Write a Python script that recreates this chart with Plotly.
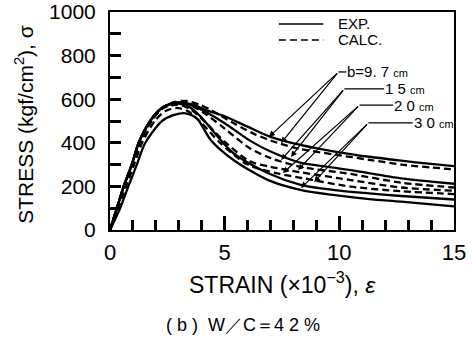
import plotly.graph_objects as go

# ---- data (strain x10^-3, stress kgf/cm2) ----
exp97_x = [0, 0.3, 0.6, 0.95, 1.25, 1.75, 2.2, 2.6, 3.1, 3.6, 4.2, 5.0, 6.0, 7.0, 8.3, 9.8, 11.3, 12.7, 14.0, 15.0]
exp97_y = [0, 100, 200, 300, 400, 500, 555, 578, 585, 575, 550, 522, 474, 427, 390, 360, 336, 318, 303, 293]
calc97_x = [0, 0.3, 0.6, 0.95, 1.3, 1.8, 2.3, 2.8, 3.3, 3.9, 4.5, 5.3, 6.3, 7.3, 8.3, 9.8, 11.3, 12.7, 14.0, 15.0]
calc97_y = [0, 100, 200, 300, 400, 500, 562, 587, 592, 575, 545, 495, 440, 400, 372, 346, 322, 300, 287, 278]

exp15_x = [0, 0.3, 0.6, 0.95, 1.25, 1.75, 2.2, 2.6, 3.0, 3.6, 4.2, 5.0, 6.1, 7.0, 8.3, 9.5, 10.5, 12.7, 14.0, 15.0]
exp15_y = [0, 100, 200, 300, 400, 500, 555, 578, 585, 570, 540, 490, 410, 360, 309, 290, 275, 237, 222, 212]
calc15_x = [0, 0.3, 0.6, 0.95, 1.3, 1.8, 2.3, 2.8, 3.1, 3.6, 4.2, 5.0, 6.1, 7.0, 8.3, 10.5, 12.7, 15.0]
calc15_y = [0, 100, 200, 300, 400, 500, 560, 578, 580, 568, 530, 465, 375, 330, 290, 257, 217, 195]

exp20_x = [0, 0.3, 0.6, 0.95, 1.25, 1.75, 2.2, 2.6, 3.0, 3.5, 4.0, 4.6, 5.4, 6.9, 8.35, 9.8, 11.3, 12.7, 15.0]
exp20_y = [0, 100, 200, 300, 400, 500, 555, 575, 580, 562, 515, 440, 351, 260, 206, 183, 168, 156, 140]
calc20_x = [0, 0.3, 0.6, 0.95, 1.3, 1.8, 2.3, 2.7, 3.0, 3.5, 4.2, 5.0, 6.1, 7.0, 8.3, 10.5, 12.7, 15.0]
calc20_y = [0, 100, 200, 300, 400, 500, 558, 572, 575, 555, 490, 405, 315, 290, 265, 229, 195, 180]

exp30_x = [0, 0.44, 0.8, 1.17, 1.54, 2.27, 2.8, 3.3, 3.8, 4.4, 5.4, 6.9, 8.35, 9.8, 11.3, 12.7, 15.0]
exp30_y = [0, 100, 200, 300, 400, 500, 528, 535, 510, 412, 320, 229, 183, 160, 142, 130, 108]
calc30_x = [0, 0.35, 0.7, 1.05, 1.4, 1.95, 2.4, 2.9, 3.4, 4.0, 4.8, 6.0, 7.2, 8.4, 10.5, 12.7, 15.0]
calc30_y = [0, 100, 200, 300, 400, 500, 545, 560, 545, 490, 400, 300, 262, 238, 199, 178, 165]

# annotation labels with arrow tail (junction) and arrow heads (data coords)
labels = ["b=9. 7 <span style='font-size:11px'>cm</span>",
          "1 5 <span style='font-size:11px'>cm</span>",
          "2 0 <span style='font-size:11px'>cm</span>",
          "3 0 <span style='font-size:11px'>cm</span>"]
label_tail = [(9.96, 725), (10.22, 647), (10.88, 573), (11.27, 491)]
label_text_x = [10.3, 11.95, 12.35, 13.2]
label_heads = [[(6.93, 427), (7.46, 399)],
               [(7.46, 321), (7.89, 335)],
               [(7.54, 261), (8.2, 275)],
               [(8.33, 193), (8.9, 220)]]

legend_names = ["EXP.", "CALC."]

FONT = "Liberation Sans, Arial, sans-serif"

fig = go.Figure()
curves = [
    (exp97_x, exp97_y, "solid"), (calc97_x, calc97_y, "dash"),
    (exp15_x, exp15_y, "solid"), (calc15_x, calc15_y, "dash"),
    (exp20_x, exp20_y, "solid"), (calc20_x, calc20_y, "dash"),
    (exp30_x, exp30_y, "solid"), (calc30_x, calc30_y, "dash"),
]
DASH = "7px,4px"
for i, (xs, ys, d) in enumerate(curves):
    fig.add_trace(go.Scatter(
        x=xs, y=ys, mode="lines", showlegend=False,
        line=dict(color="black", width=2.3, dash="solid" if d == "solid" else DASH,
                  shape="spline", smoothing=0.8),
    ))

# legend drawn by hand (line sample + text)
for j, (nm, dsh) in enumerate(zip(legend_names, ["solid", DASH])):
    yp = 0.945 - j * 0.073
    fig.add_shape(type="line", xref="paper", yref="paper", x0=0.491, x1=0.620, y0=yp, y1=yp,
                  line=dict(color="black", width=1.5, dash=dsh))
    fig.add_annotation(x=0.66, y=yp, xref="paper", yref="paper", text=nm, showarrow=False,
                       xanchor="left", yanchor="middle", borderpad=0,
                       font=dict(family=FONT, size=15, color="black"))

for lab, tail, tx, heads in zip(labels, label_tail, label_text_x, label_heads):
    for hx, hy in heads:
        fig.add_annotation(x=hx, y=hy, ax=tail[0], ay=tail[1], axref="x", ayref="y",
                           xref="x", yref="y", text="", showarrow=True,
                           arrowhead=2, arrowsize=1, arrowwidth=1.2, arrowcolor="black")
    fig.add_shape(type="line", x0=tail[0], y0=tail[1], x1=tx, y1=tail[1],
                  xref="x", yref="y", line=dict(color="black", width=1.3))
    fig.add_annotation(x=tx, y=tail[1], xref="x", yref="y", text=lab, showarrow=False,
                       xanchor="left", yanchor="middle", borderpad=0,
                       font=dict(family=FONT, size=15, color="black"))

# axis titles and caption
fig.add_annotation(x=-0.2485, y=0.485, xref="paper", yref="paper",
                   text="STRESS (kgf/cm<sup>2</sup>), σ", textangle=-90, showarrow=False,
                   xanchor="center", yanchor="middle",
                   font=dict(family=FONT, size=21, color="black"))
fig.add_annotation(x=0.5, y=-0.245, xref="paper", yref="paper",
                   text="STRAIN (×10<sup>−3</sup>), <i>ε</i>", showarrow=False,
                   xanchor="center", yanchor="middle",
                   font=dict(family=FONT, size=23, color="black"))
fig.add_annotation(x=0.386, y=-0.437, xref="paper", yref="paper",
                   text="( b )  W／C＝4 2 %", showarrow=False,
                   xanchor="center", yanchor="middle",
                   font=dict(family=FONT, size=18, color="black"))

fig.update_layout(
    width=472, height=351,
    margin=dict(l=110, r=18, t=12, b=121),
    paper_bgcolor="white", plot_bgcolor="white",
    font=dict(family=FONT, color="black"),
    showlegend=False,
    xaxis=dict(range=[0, 15], dtick=5, tick0=0, ticks="inside", ticklen=14, tickwidth=2.5,
               tickcolor="black", showgrid=False, zeroline=False, automargin=False,
               showline=True, linecolor="black", linewidth=2, mirror=True,
               minor=dict(dtick=1, ticks="inside", ticklen=10, tickwidth=2.5, tickcolor="black"),
               tickfont=dict(size=22, family=FONT), ticklabelstandoff=2),
    yaxis=dict(range=[0, 1000], dtick=200, tick0=0, ticks="inside", ticklen=11, tickwidth=2.5,
               tickcolor="black", showgrid=False, zeroline=False, automargin=False,
               showline=True, linecolor="black", linewidth=2, mirror=True,
               minor=dict(dtick=100, ticks="inside", ticklen=11, tickwidth=2.5, tickcolor="black"),
               tickfont=dict(size=21, family=FONT), ticklabelstandoff=8),
)

fig.write_html("out.html")
